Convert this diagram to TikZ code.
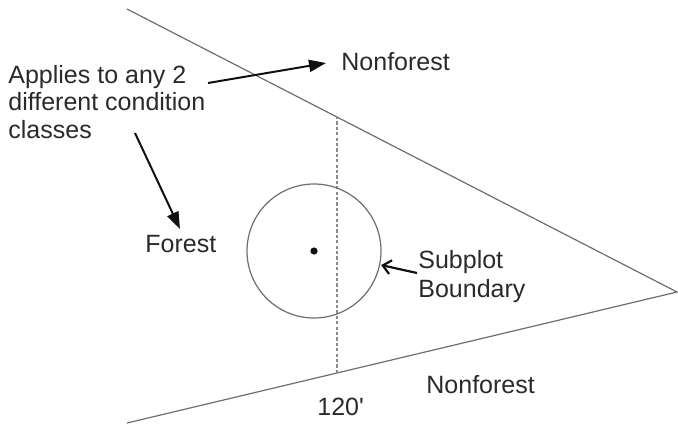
\documentclass[tikz,border=0pt]{standalone}
\usepackage{fontspec}
\setmainfont{Liberation Sans}
\usetikzlibrary{arrows.meta,positioning,calc}
\definecolor{cEdge} {HTML}{6E6E6E}
\definecolor{cText} {HTML}{2A2A2A}
\definecolor{cArrow}{HTML}{111111}

\begin{document}
\begin{tikzpicture}[
  x=0.5pt, y=-0.5pt,
  font=\fontsize{12.5}{14}\selectfont,
  edge/.style ={draw=cEdge, line width=0.6pt},
  cut/.style  ={draw=cEdge!80, line width=0.55pt, dash pattern=on 1.6pt off 1.1pt},
  lbl/.style  ={text=cText, inner sep=0pt, anchor=base west, align=left},
  ar/.style   ={-{Triangle[length=8.5pt, width=6pt]}, draw=cArrow, line width=1pt},
  arb/.style  ={-{Straight Barb[length=4pt, width=7pt]}, draw=cArrow, line width=1.1pt},
]
\useasboundingbox (0,0) rectangle (678,424);

% ---------------------------------------------------------------- boundary lines
\coordinate (apex)  at (677,292);
\coordinate (upend) at (127,9);
\coordinate (loend) at (127,423);
\draw[edge] (upend) -- (apex) -- (loend);

% ---------------------------------------------------------------- 120' transect
\coordinate (ctop) at (337,116);
\coordinate (cbot) at (337,373);
\draw[cut] (ctop) -- (cbot);

% ---------------------------------------------------------------- subplot
\node[circle, edge, minimum size=134pt*0.5, inner sep=0pt] (plot) at (314,251) {};
\fill[cArrow] (plot.center) circle (1.8pt);

% ---------------------------------------------------------------- labels
% (base of a multi-line label = base of its last line)
\node[lbl, font=\fontsize{12.5}{13.75}\selectfont] (note) at (8,138)
  {Applies to any 2\\different condition\\classes};
\node[lbl] (nfup) at (341,70)  {Nonforest};
\node[lbl] (frst) at (145,252) {Forest};
\node[lbl, font=\fontsize{12.5}{14.5}\selectfont] (subl) at (418,297)
  {Subplot\\Boundary};
\node[lbl] (nflo) at (426,393) {Nonforest};
\node[lbl] (dist) at (317,415) {120\textquotesingle};

% ---------------------------------------------------------------- arrows
\coordinate (a1s) at (208,83);
\coordinate (a1e) at (326,63);
\coordinate (a2s) at (135,133);
\coordinate (a2e) at (180,229);
\coordinate (a3s) at (417,273);
\draw[ar]  (a1s) -- (a1e);
\draw[ar]  (a2s) -- (a2e);
\draw[arb] (a3s) -- ([shift={(1,0)}]plot.-12);

\end{tikzpicture}
\end{document}
